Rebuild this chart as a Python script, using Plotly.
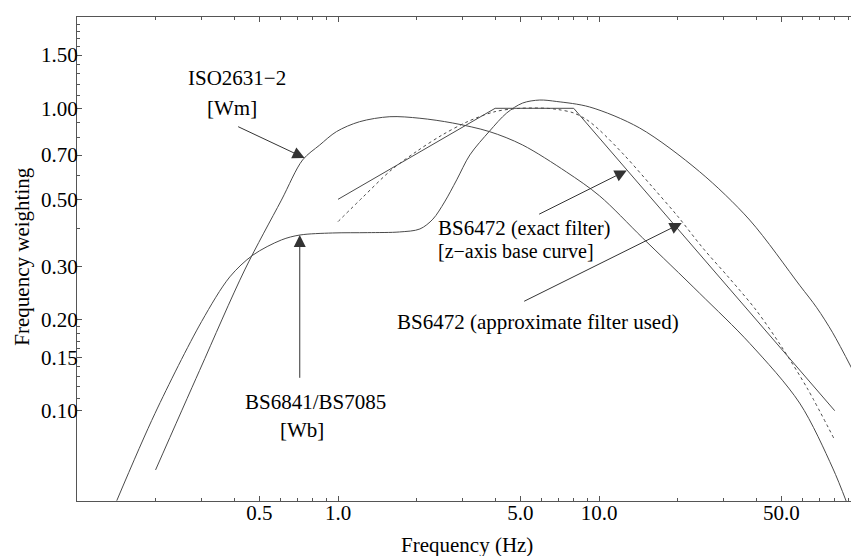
import numpy as np
import plotly.graph_objects as go

# ---------------- data ----------------
# BS6841 / BS7085  [Wb]
wb_freq = [0.142, 0.199, 0.30, 0.385, 0.472, 0.607, 0.714, 0.954, 1.30, 1.72, 2.06,
           2.31, 2.56, 2.85, 3.20, 3.81, 4.43, 5.10, 5.93, 6.89, 9.21, 14.3, 24.3,
           37.8, 58.7, 68.3, 78.6, 93.0]
wb_weight = [0.0504, 0.098, 0.197, 0.277, 0.327, 0.367, 0.381, 0.387, 0.388, 0.390,
             0.399, 0.430, 0.490, 0.580, 0.701, 0.841, 0.965, 1.041, 1.065, 1.053,
             1.010, 0.861, 0.617, 0.427, 0.260, 0.219, 0.181, 0.138]

# ISO2631-2  [Wm]
wm_freq = [0.200, 0.295, 0.439, 0.607, 0.732, 0.851, 0.986, 1.21, 1.58, 2.06, 2.75,
           3.81, 5.10, 7.50, 10.06, 14.7, 24.3, 37.8, 58.7, 78.6, 88.7]
wm_weight = [0.0637, 0.136, 0.292, 0.497, 0.675, 0.756, 0.837, 0.903, 0.938, 0.927,
             0.894, 0.837, 0.756, 0.616, 0.513, 0.3725, 0.2445, 0.167, 0.106, 0.0646,
             0.050]

# BS6472 exact filter (z-axis base curve)
bs_exact_freq = [1.0, 4.0, 8.0, 80.0]
bs_exact_weight = [0.5, 1.0, 1.0, 0.1]

# BS6472 approximate filter used
bs_approx_freq = [1.0, 1.25, 1.6, 2.0, 2.5, 3.15, 4.0, 5.0, 6.3, 7.0, 8.0, 9.0, 10.0,
                  12.5, 16.0, 20.0, 25.0, 31.5, 40.0, 50.0, 63.0, 80.0]
bs_approx_weight = [0.422, 0.51, 0.625, 0.72, 0.815, 0.905, 0.975, 1.0, 1.0, 0.99,
                    0.965, 0.915, 0.85, 0.70, 0.55, 0.44, 0.345, 0.275, 0.215, 0.163,
                    0.118, 0.080]

x_tickvals = [0.5, 1, 5, 10, 50]
x_ticktext = ["0.5", "1.0", "5.0", "10.0", "50.0"]
x_minor = [0.2, 0.3, 0.4, 0.6, 0.7, 0.8, 0.9, 2, 3, 4, 6, 7, 8, 9, 20, 30, 40, 60, 70, 80, 90]
y_tickvals = [0.10, 0.15, 0.20, 0.30, 0.50, 0.70, 1.00, 1.50]
y_ticktext = ["0.10", "0.15", "0.20", "0.30", "0.50", "0.70", "1.00", "1.50"]
y_minor = [0.11, 0.12, 0.13, 0.14, 0.16, 0.17, 0.18, 0.19, 0.4, 0.6, 0.8, 0.9,
           1.1, 1.2, 1.3, 1.4, 1.6, 1.7, 1.8, 1.9]

# ---------------- style ----------------
FONT = "Liberation Serif, Times New Roman, serif"
CURVE = "#4a4a4a"
AXIS = "#555555"

fig = go.Figure()
fig.add_trace(go.Scatter(x=wb_freq, y=wb_weight, mode="lines",
                         line=dict(color=CURVE, width=1, shape="spline", smoothing=0.9),
                         hoverinfo="skip", showlegend=False))
fig.add_trace(go.Scatter(x=wm_freq, y=wm_weight, mode="lines",
                         line=dict(color=CURVE, width=1, shape="spline", smoothing=0.9),
                         hoverinfo="skip", showlegend=False))
fig.add_trace(go.Scatter(x=bs_exact_freq, y=bs_exact_weight, mode="lines",
                         line=dict(color=CURVE, width=1),
                         hoverinfo="skip", showlegend=False))
fig.add_trace(go.Scatter(x=bs_approx_freq, y=bs_approx_weight, mode="lines",
                         line=dict(color=CURVE, width=1, dash="dot", shape="spline", smoothing=0.9),
                         hoverinfo="skip", showlegend=False))

L = np.log10
txt_font = dict(family=FONT, size=21, color="black")

def label(text, fx, fy, xanchor="center", size=21):
    fig.add_annotation(x=L(fx), y=L(fy), xref="x", yref="y", text=text,
                       showarrow=False, font=dict(family=FONT, size=size, color="black"),
                       xanchor=xanchor, yanchor="middle", borderpad=0)

def arrow(fx_tip, fy_tip, fx_tail, fy_tail):
    fig.add_annotation(x=L(fx_tip), y=L(fy_tip), ax=L(fx_tail), ay=L(fy_tail),
                       xref="x", yref="y", axref="x", ayref="y", text="",
                       showarrow=True, arrowhead=2, arrowsize=2.4, arrowwidth=1,
                       arrowcolor="#333333", standoff=0, startstandoff=0)

label("ISO2631\u22122", 0.409, 1.259)
label("[Wm]", 0.3915, 1.0023)
label("BS6841/BS7085", 0.8214, 0.1069)
label("[Wb]", 0.726, 0.0863)
label("BS6472 <span style='font-size:20px'>(exact filter)</span>", 2.389, 0.403, "left", 21)
label("[z\u2212axis base curve]", 2.389, 0.338, "left", 20)
label("BS6472 (approximate filter used)", 1.664, 0.1966, "left", 21)

arrow(0.745, 0.685, 0.409, 0.874)      # ISO arrow
arrow(0.7136, 0.381, 0.7136, 0.127)    # Wb arrow
arrow(12.77, 0.623, 5.82, 0.444)       # exact filter arrow
arrow(20.75, 0.4175, 5.10, 0.2288)     # approx filter arrow

# axis titles
fig.add_annotation(x=0.504, y=-0.091, xref="paper", yref="paper", text="Frequency (Hz)",
                   showarrow=False, font=txt_font, xanchor="center", yanchor="middle")
fig.add_annotation(x=-0.071, y=0.505, xref="paper", yref="paper", text="Frequency weighting",
                   showarrow=False, font=txt_font, textangle=-90,
                   xanchor="center", yanchor="middle")

fig.update_xaxes(type="log", range=[-1, 1.9655],
                 tickmode="array", tickvals=x_tickvals, ticktext=x_ticktext,
                 ticks="inside", ticklen=5, tickwidth=1, tickcolor=AXIS,
                 showline=True, linecolor=AXIS, linewidth=1, mirror="ticks",
                 showgrid=False, zeroline=False, ticklabelstandoff=-7,
                 tickfont=dict(family=FONT, size=21, color="black"),
                 minor=dict(tickvals=x_minor, ticks="inside", ticklen=3,
                            tickcolor=AXIS, showgrid=False))
fig.update_yaxes(type="log", range=[-1.2986, 0.3019],
                 tickmode="array", tickvals=y_tickvals, ticktext=y_ticktext,
                 ticks="inside", ticklen=5, tickwidth=1, tickcolor=AXIS,
                 showline=True, linecolor=AXIS, linewidth=1, mirror=False,
                 showgrid=False, zeroline=False, ticklabelstandoff=-6,
                 tickfont=dict(family=FONT, size=21, color="black"),
                 minor=dict(tickvals=y_minor, ticks="inside", ticklen=3,
                            tickcolor=AXIS, showgrid=False))

fig.update_layout(width=852, height=556,
                  margin=dict(l=77, r=1, t=17, b=55),
                  paper_bgcolor="white", plot_bgcolor="white",
                  showlegend=False)

fig.write_html("out.html")
